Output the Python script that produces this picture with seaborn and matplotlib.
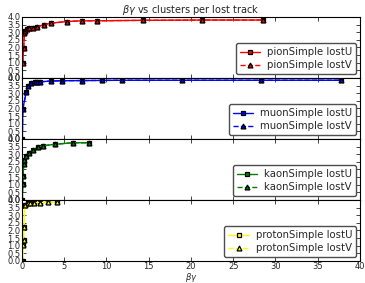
import numpy as np
import pandas as pd
import matplotlib
matplotlib.use('Agg')
import matplotlib.pyplot as plt
import seaborn as sns

sns.set_style('white')
plt.rcParams['font.family'] = ['DejaVu Sans']
plt.rcParams['xtick.direction'] = 'in'
plt.rcParams['ytick.direction'] = 'in'
plt.rcParams['mathtext.fontset'] = 'dejavusans'

# beta*gamma vs clusters per lost track, per particle type
pion_bg = [0.1, 0.2, 0.3, 0.4, 0.6, 0.8, 1.3, 1.8, 2.6, 3.5, 5.3, 7.1, 8.9, 14.3, 21.3, 28.5]
pion_cl = [1.0, 1.95, 2.95, 3.1, 3.2, 3.25, 3.3, 3.35, 3.5, 3.6, 3.7, 3.75, 3.75, 3.78, 3.8, 3.8]

muon_bg = [0.05, 0.1, 0.5, 0.7, 1.1, 1.5, 1.8, 2.2, 3.5, 4.7, 7.1, 9.5, 11.8, 18.9, 28.3, 37.8]
muon_cl = [0.0, 1.95, 3.05, 3.45, 3.65, 3.72, 3.75, 3.75, 3.8, 3.82, 3.83, 3.84, 3.85, 3.85, 3.85, 3.85]

kaon_bg = [0.05, 0.1, 0.15, 0.2, 0.3, 0.45, 0.8, 1.3, 1.9, 2.5, 3.9, 6.0, 8.0]
kaon_cl = [0.0, 1.05, 1.6, 2.35, 2.6, 2.9, 3.05, 3.3, 3.45, 3.55, 3.65, 3.75, 3.75]

proton_bg = [0.1, 0.15, 0.2, 0.25, 0.35, 0.7, 1.0, 1.4, 2.1, 3.1, 4.2]
proton_cl = [0.0, 1.05, 1.4, 2.2, 3.7, 3.8, 3.8, 3.82, 3.83, 3.85, 3.85]

particles = ['pionSimple', 'muonSimple', 'kaonSimple', 'protonSimple']
colors = ['red', 'blue', 'green', 'yellow']
xs = [pion_bg, muon_bg, kaon_bg, proton_bg]
ys = [pion_cl, muon_cl, kaon_cl, proton_cl]

fig, axes = plt.subplots(4, 1, sharex=True, figsize=(3.65, 2.83), dpi=100)
fig.subplots_adjust(left=0.06, right=0.986, top=0.94, bottom=0.078, hspace=0)

for ax, name, col, x, y in zip(axes, particles, colors, xs, ys):
    df = pd.DataFrame({'bg': x, 'cl': y})
    sns.lineplot(data=df, x='bg', y='cl', ax=ax, color=col, marker='s', markersize=3.5,
                 markerfacecolor=col, markeredgecolor='black', markeredgewidth=0.9,
                 linewidth=1.0, sort=False, label=name + ' lostU')
    sns.lineplot(data=df, x='bg', y='cl', ax=ax, color=col, marker='^', markersize=3.5,
                 markerfacecolor=col, markeredgecolor='black', markeredgewidth=0.9,
                 linewidth=1.0, linestyle='--', sort=False, label=name + ' lostV')
    ax.set_xlim(0, 40)
    ax.set_ylim(0, 4)
    ax.set_yticks(np.arange(0, 4.01, 0.5))
    ax.set_ylabel('')
    ax.set_xlabel('')
    ax.tick_params(axis='both', labelsize=6, length=3, width=0.6, pad=1,
                   top=True, right=True, bottom=True, left=True)
    for s in ax.spines.values():
        s.set_linewidth(0.8)
        s.set_color('black')
    ax.legend(loc='lower right', fontsize=7.3, handlelength=2, borderpad=0.4,
              labelspacing=0.3, handletextpad=0.7, borderaxespad=0.35,
              fancybox=True, framealpha=1, edgecolor='0.3')

axes[-1].set_xticks(np.arange(0, 41, 5))
axes[-1].set_xlabel(r'$\beta\gamma$', fontsize=6, labelpad=0)
axes[0].set_title(r'$\beta\gamma$ vs clusters per lost track', fontsize=7, pad=2)

fig.savefig('out.png', dpi=100)
